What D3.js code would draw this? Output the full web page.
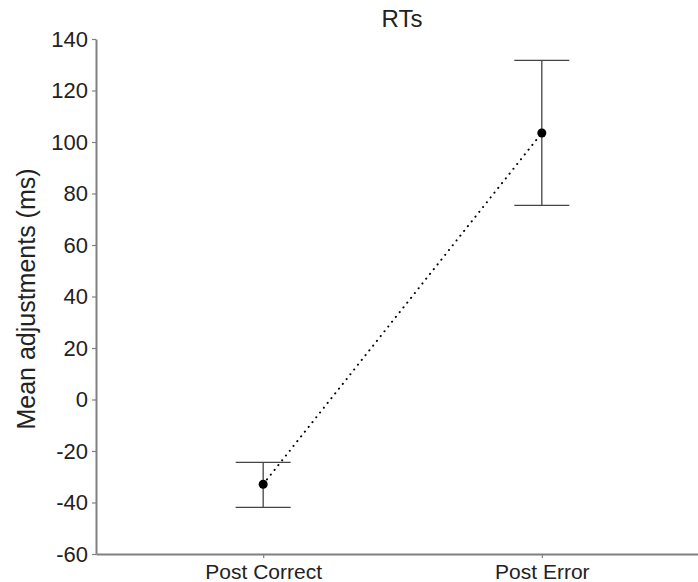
<!DOCTYPE html>
<html>
<head>
<meta charset="utf-8">
<script src="https://cdn.jsdelivr.net/npm/d3@7"></script>
<style>
  body { margin: 0; background: #fff; }
  svg { display: block; font-family: "Liberation Sans", Arial, sans-serif; }
</style>
</head>
<body>
<svg id="chart" width="698" height="582"></svg>
<script>
// Mean RT adjustments with error bars per condition
const conditions = ["Post Correct", "Post Error"];
const means = [-32.9, 103.5];
const upper = [-24.4, 131.7];
const lower = [-41.9, 75.4];
const yTicks = [-60, -40, -20, 0, 20, 40, 60, 80, 100, 120, 140];

const svg = d3.select("#chart");

const y = d3.scaleLinear().domain([-60, 140]).range([554, 39]);
const x = d3.scalePoint().domain(conditions).range([96, 709]).padding(0.6);

// y axis (plain hyphen for negative numbers)
const yAxis = svg.append("g")
  .attr("transform", "translate(96,0)")
  .call(d3.axisLeft(y).tickValues(yTicks).tickFormat(d => String(d))
    .tickSize(4).tickSizeOuter(0).tickPadding(4));
yAxis.select(".domain").attr("stroke", "#808080").attr("stroke-width", 2);
yAxis.selectAll(".tick line").attr("stroke", "#808080").attr("stroke-width", 1.2);
yAxis.selectAll(".tick text").attr("font-size", 22).attr("fill", "#222")
  .attr("font-family", "Liberation Sans, Arial, sans-serif");

// x axis
const xAxis = svg.append("g")
  .attr("transform", "translate(0,554)")
  .call(d3.axisBottom(x).tickSize(4).tickSizeOuter(0).tickPadding(6));
xAxis.select(".domain").attr("stroke", "#808080").attr("stroke-width", 2);
xAxis.selectAll(".tick line").attr("stroke", "#808080").attr("stroke-width", 1.2);
xAxis.selectAll(".tick text").attr("font-size", 21).attr("fill", "#222")
  .attr("font-family", "Liberation Sans, Arial, sans-serif");

// Title and axis label
svg.append("text")
  .attr("x", 402).attr("y", 27)
  .attr("text-anchor", "middle")
  .attr("font-size", 24).attr("fill", "#222")
  .text("RTs");

svg.append("text")
  .attr("transform", "translate(35,299) rotate(-90)")
  .attr("text-anchor", "middle")
  .attr("font-size", 25).attr("fill", "#222")
  .text("Mean adjustments (ms)");

const data = conditions.map((c, i) => ({ c, m: means[i], hi: upper[i], lo: lower[i] }));

// Dotted line connecting the means
svg.append("path")
  .datum(data)
  .attr("fill", "none")
  .attr("stroke", "#000")
  .attr("stroke-width", 2)
  .attr("stroke-linecap", "round")
  .attr("stroke-dasharray", "0.1 6")
  .attr("d", d3.line().x(d => x(d.c)).y(d => y(d.m)));

// Error bars
const capHalf = 27.5;
const bars = svg.append("g").selectAll("g").data(data).join("g");
bars.append("line")
  .attr("x1", d => x(d.c)).attr("x2", d => x(d.c))
  .attr("y1", d => y(d.hi)).attr("y2", d => y(d.lo))
  .attr("stroke", "#444").attr("stroke-width", 1.3);
bars.append("line")
  .attr("x1", d => x(d.c) - capHalf).attr("x2", d => x(d.c) + capHalf)
  .attr("y1", d => y(d.hi)).attr("y2", d => y(d.hi))
  .attr("stroke", "#444").attr("stroke-width", 1.3);
bars.append("line")
  .attr("x1", d => x(d.c) - capHalf).attr("x2", d => x(d.c) + capHalf)
  .attr("y1", d => y(d.lo)).attr("y2", d => y(d.lo))
  .attr("stroke", "#444").attr("stroke-width", 1.3);

// Mean points
bars.append("circle")
  .attr("cx", d => x(d.c)).attr("cy", d => y(d.m))
  .attr("r", 4.5).attr("fill", "#000");
</script>
</body>
</html>
